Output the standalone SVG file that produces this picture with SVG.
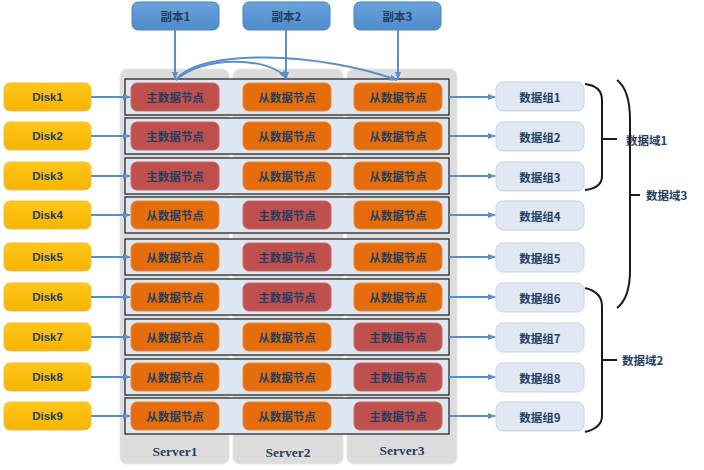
<svg xmlns="http://www.w3.org/2000/svg" width="704" height="470" viewBox="0 0 704 470">
<defs>
<marker id="ah" viewBox="0 0 10 10" refX="9" refY="5" markerWidth="8" markerHeight="8" orient="auto" markerUnits="userSpaceOnUse">
<path d="M0,1 L10,5 L0,9 z" fill="#5a8fc8"/>
</marker>
<linearGradient id="gDisk" x1="0" y1="0" x2="0" y2="1"><stop offset="0" stop-color="#ffc61a"/><stop offset="1" stop-color="#f5b400"/></linearGradient>
<linearGradient id="gRep" x1="0" y1="0" x2="0" y2="1"><stop offset="0" stop-color="#6aa3dc"/><stop offset="1" stop-color="#4d8bcb"/></linearGradient>
</defs>
<style>
.srv{fill:#dcdcdc;stroke:#e6e6e6;stroke-width:1}
.row{fill:#dde7f2;stroke:#1a1a1a;stroke-width:1.2}
.m{fill:#c0504d;stroke:#c96b68;stroke-width:1}
.s{fill:#e46c0a;stroke:#ec8a3a;stroke-width:1}
.disk{fill:url(#gDisk);stroke:#f0c040;stroke-width:1}
.rep{fill:url(#gRep);stroke:#4a84c0;stroke-width:1}
.grp{fill:#dfe8f3;stroke:#c5d3e3;stroke-width:1}
.t{font-family:"Noto Sans CJK SC","Liberation Sans",sans-serif;font-size:11.5px;font-weight:bold;fill:#243f60;text-anchor:middle;dominant-baseline:central}
.d{font-family:"Liberation Sans",sans-serif;font-size:11.5px;font-weight:bold;fill:#243f60;text-anchor:middle;dominant-baseline:central}
.sv{font-family:"Liberation Serif",serif;font-size:13.5px;font-weight:bold;fill:#2a4060;text-anchor:middle}
.ln{stroke:#5a8fc8;stroke-width:2;fill:none}
.br{stroke:#1a1a1a;stroke-width:2;fill:none}
.dom{font-family:"Noto Sans CJK SC","Liberation Sans",sans-serif;font-size:11.5px;font-weight:bold;fill:#243f60;dominant-baseline:central}
</style>

<g id="servers">
<rect class="srv" x="120" y="69" width="109" height="395" rx="7"/>
<rect class="srv" x="233" y="69" width="110" height="395" rx="7"/>
<rect class="srv" x="347" y="69" width="110" height="395" rx="7"/>
<text class="sv" x="175" y="456">Server1</text>
<text class="sv" x="288" y="457">Server2</text>
<text class="sv" x="402" y="455">Server3</text>
</g>

<g id="replicas">
<g id="rep1"><rect class="rep" x="132" y="2" width="87" height="28" rx="6"/><text class="t" x="175.5" y="16">副本1</text></g>
<g id="rep2"><rect class="rep" x="243" y="2" width="87" height="28" rx="6"/><text class="t" x="286.5" y="16">副本2</text></g>
<g id="rep3"><rect class="rep" x="354" y="2" width="87" height="28" rx="6"/><text class="t" x="397.5" y="16">副本3</text></g>
</g>

<g id="rows">
<rect class="row" x="125" y="79" width="324" height="36"/>
<rect class="row" x="125" y="118" width="324" height="36"/>
<rect class="row" x="125" y="158" width="324" height="36"/>
<rect class="row" x="125" y="197" width="324" height="36"/>
<rect class="row" x="125" y="239" width="324" height="36"/>
<rect class="row" x="125" y="279" width="324" height="36"/>
<rect class="row" x="125" y="319" width="324" height="36"/>
<rect class="row" x="125" y="359" width="324" height="36"/>
<rect class="row" x="125" y="398" width="324" height="36"/>
</g>

<g id="row1"><rect class="m" x="131" y="83" width="88" height="28" rx="6"/><text class="t" x="175" y="97">主数据节点</text>
<rect class="s" x="243" y="83" width="88" height="28" rx="6"/><text class="t" x="287" y="97">从数据节点</text>
<rect class="s" x="354" y="83" width="88" height="28" rx="6"/><text class="t" x="398" y="97">从数据节点</text></g>
<g id="row2"><rect class="m" x="131" y="122" width="88" height="28" rx="6"/><text class="t" x="175" y="136">主数据节点</text>
<rect class="s" x="243" y="122" width="88" height="28" rx="6"/><text class="t" x="287" y="136">从数据节点</text>
<rect class="s" x="354" y="122" width="88" height="28" rx="6"/><text class="t" x="398" y="136">从数据节点</text></g>
<g id="row3"><rect class="m" x="131" y="162" width="88" height="28" rx="6"/><text class="t" x="175" y="176">主数据节点</text>
<rect class="s" x="243" y="162" width="88" height="28" rx="6"/><text class="t" x="287" y="176">从数据节点</text>
<rect class="s" x="354" y="162" width="88" height="28" rx="6"/><text class="t" x="398" y="176">从数据节点</text></g>
<g id="row4"><rect class="s" x="131" y="201" width="88" height="28" rx="6"/><text class="t" x="175" y="215">从数据节点</text>
<rect class="m" x="243" y="201" width="88" height="28" rx="6"/><text class="t" x="287" y="215">主数据节点</text>
<rect class="s" x="354" y="201" width="88" height="28" rx="6"/><text class="t" x="398" y="215">从数据节点</text></g>
<g id="row5"><rect class="s" x="131" y="243" width="88" height="28" rx="6"/><text class="t" x="175" y="257">从数据节点</text>
<rect class="m" x="243" y="243" width="88" height="28" rx="6"/><text class="t" x="287" y="257">主数据节点</text>
<rect class="s" x="354" y="243" width="88" height="28" rx="6"/><text class="t" x="398" y="257">从数据节点</text></g>
<g id="row6"><rect class="s" x="131" y="283" width="88" height="28" rx="6"/><text class="t" x="175" y="297">从数据节点</text>
<rect class="m" x="243" y="283" width="88" height="28" rx="6"/><text class="t" x="287" y="297">主数据节点</text>
<rect class="s" x="354" y="283" width="88" height="28" rx="6"/><text class="t" x="398" y="297">从数据节点</text></g>
<g id="row7"><rect class="s" x="131" y="323" width="88" height="28" rx="6"/><text class="t" x="175" y="337">从数据节点</text>
<rect class="s" x="243" y="323" width="88" height="28" rx="6"/><text class="t" x="287" y="337">从数据节点</text>
<rect class="m" x="354" y="323" width="88" height="28" rx="6"/><text class="t" x="398" y="337">主数据节点</text></g>
<g id="row8"><rect class="s" x="131" y="363" width="88" height="28" rx="6"/><text class="t" x="175" y="377">从数据节点</text>
<rect class="s" x="243" y="363" width="88" height="28" rx="6"/><text class="t" x="287" y="377">从数据节点</text>
<rect class="m" x="354" y="363" width="88" height="28" rx="6"/><text class="t" x="398" y="377">主数据节点</text></g>
<g id="row9"><rect class="s" x="131" y="402" width="88" height="28" rx="6"/><text class="t" x="175" y="416">从数据节点</text>
<rect class="s" x="243" y="402" width="88" height="28" rx="6"/><text class="t" x="287" y="416">从数据节点</text>
<rect class="m" x="354" y="402" width="88" height="28" rx="6"/><text class="t" x="398" y="416">主数据节点</text></g>

<g id="disks">
<g id="disk1"><rect class="disk" x="4" y="83" width="87" height="28" rx="6"/><text class="d" x="47.5" y="97">Disk1</text></g>
<g id="disk2"><rect class="disk" x="4" y="122" width="87" height="28" rx="6"/><text class="d" x="47.5" y="136">Disk2</text></g>
<g id="disk3"><rect class="disk" x="4" y="162" width="87" height="28" rx="6"/><text class="d" x="47.5" y="176">Disk3</text></g>
<g id="disk4"><rect class="disk" x="4" y="201" width="87" height="28" rx="6"/><text class="d" x="47.5" y="215">Disk4</text></g>
<g id="disk5"><rect class="disk" x="4" y="243" width="87" height="28" rx="6"/><text class="d" x="47.5" y="257">Disk5</text></g>
<g id="disk6"><rect class="disk" x="4" y="283" width="87" height="28" rx="6"/><text class="d" x="47.5" y="297">Disk6</text></g>
<g id="disk7"><rect class="disk" x="4" y="323" width="87" height="28" rx="6"/><text class="d" x="47.5" y="337">Disk7</text></g>
<g id="disk8"><rect class="disk" x="4" y="363" width="87" height="28" rx="6"/><text class="d" x="47.5" y="377">Disk8</text></g>
<g id="disk9"><rect class="disk" x="4" y="402" width="87" height="28" rx="6"/><text class="d" x="47.5" y="416">Disk9</text></g>
</g>

<g id="groups">
<g id="grp1"><rect class="grp" x="496" y="82" width="88" height="29" rx="7"/><text class="t" x="540" y="97">数据组1</text></g>
<g id="grp2"><rect class="grp" x="496" y="122" width="88" height="29" rx="7"/><text class="t" x="540" y="137">数据组2</text></g>
<g id="grp3"><rect class="grp" x="496" y="162" width="88" height="29" rx="7"/><text class="t" x="540" y="177">数据组3</text></g>
<g id="grp4"><rect class="grp" x="496" y="201" width="88" height="29" rx="7"/><text class="t" x="540" y="216">数据组4</text></g>
<g id="grp5"><rect class="grp" x="496" y="243" width="88" height="29" rx="7"/><text class="t" x="540" y="258">数据组5</text></g>
<g id="grp6"><rect class="grp" x="496" y="283" width="88" height="29" rx="7"/><text class="t" x="540" y="298">数据组6</text></g>
<g id="grp7"><rect class="grp" x="496" y="323" width="88" height="29" rx="7"/><text class="t" x="540" y="338">数据组7</text></g>
<g id="grp8"><rect class="grp" x="496" y="363" width="88" height="29" rx="7"/><text class="t" x="540" y="378">数据组8</text></g>
<g id="grp9"><rect class="grp" x="496" y="402" width="88" height="29" rx="7"/><text class="t" x="540" y="417">数据组9</text></g>
</g>

<g id="connectors">
<path class="ln" marker-end="url(#ah)" d="M175,30 V79"/>
<path class="ln" marker-end="url(#ah)" d="M286,30 V79"/>
<path class="ln" marker-end="url(#ah)" d="M398,30 V79"/>
<path class="ln" marker-end="url(#ah)" d="M176,80 C200,56 270,56 286,78"/>
<path class="ln" marker-end="url(#ah)" d="M176,80 C200,48 320,52 397,80"/>
<path class="ln" marker-end="url(#ah)" d="M91,97 H130"/>
<path class="ln" marker-end="url(#ah)" d="M91,136 H130"/>
<path class="ln" marker-end="url(#ah)" d="M91,176 H130"/>
<path class="ln" marker-end="url(#ah)" d="M91,215 H130"/>
<path class="ln" marker-end="url(#ah)" d="M91,257 H130"/>
<path class="ln" marker-end="url(#ah)" d="M91,297 H130"/>
<path class="ln" marker-end="url(#ah)" d="M91,337 H130"/>
<path class="ln" marker-end="url(#ah)" d="M91,377 H130"/>
<path class="ln" marker-end="url(#ah)" d="M91,416 H130"/>
<path class="ln" marker-end="url(#ah)" d="M449,97 H495"/>
<path class="ln" marker-end="url(#ah)" d="M449,136 H495"/>
<path class="ln" marker-end="url(#ah)" d="M449,176 H495"/>
<path class="ln" marker-end="url(#ah)" d="M449,215 H495"/>
<path class="ln" marker-end="url(#ah)" d="M449,257 H495"/>
<path class="ln" marker-end="url(#ah)" d="M449,297 H495"/>
<path class="ln" marker-end="url(#ah)" d="M449,337 H495"/>
<path class="ln" marker-end="url(#ah)" d="M449,377 H495"/>
<path class="ln" marker-end="url(#ah)" d="M449,416 H495"/>
</g>

<g id="domains">
<path class="br" d="M585,84 Q602,86 602,100 V176 Q602,188 585,190"/>
<path class="br" d="M602,139 H617"/>
<text class="dom" x="626" y="140">数据域1</text>
<path class="br" d="M617,80 Q630,90 630,120 V270 Q630,298 617,308"/>
<path class="br" d="M630,195 H640"/>
<text class="dom" x="646" y="195">数据域3</text>
<path class="br" d="M585,288 Q602,292 602,306 V416 Q602,428 585,432"/>
<path class="br" d="M602,360 H617"/>
<text class="dom" x="622" y="360">数据域2</text>
</g>
</svg>
